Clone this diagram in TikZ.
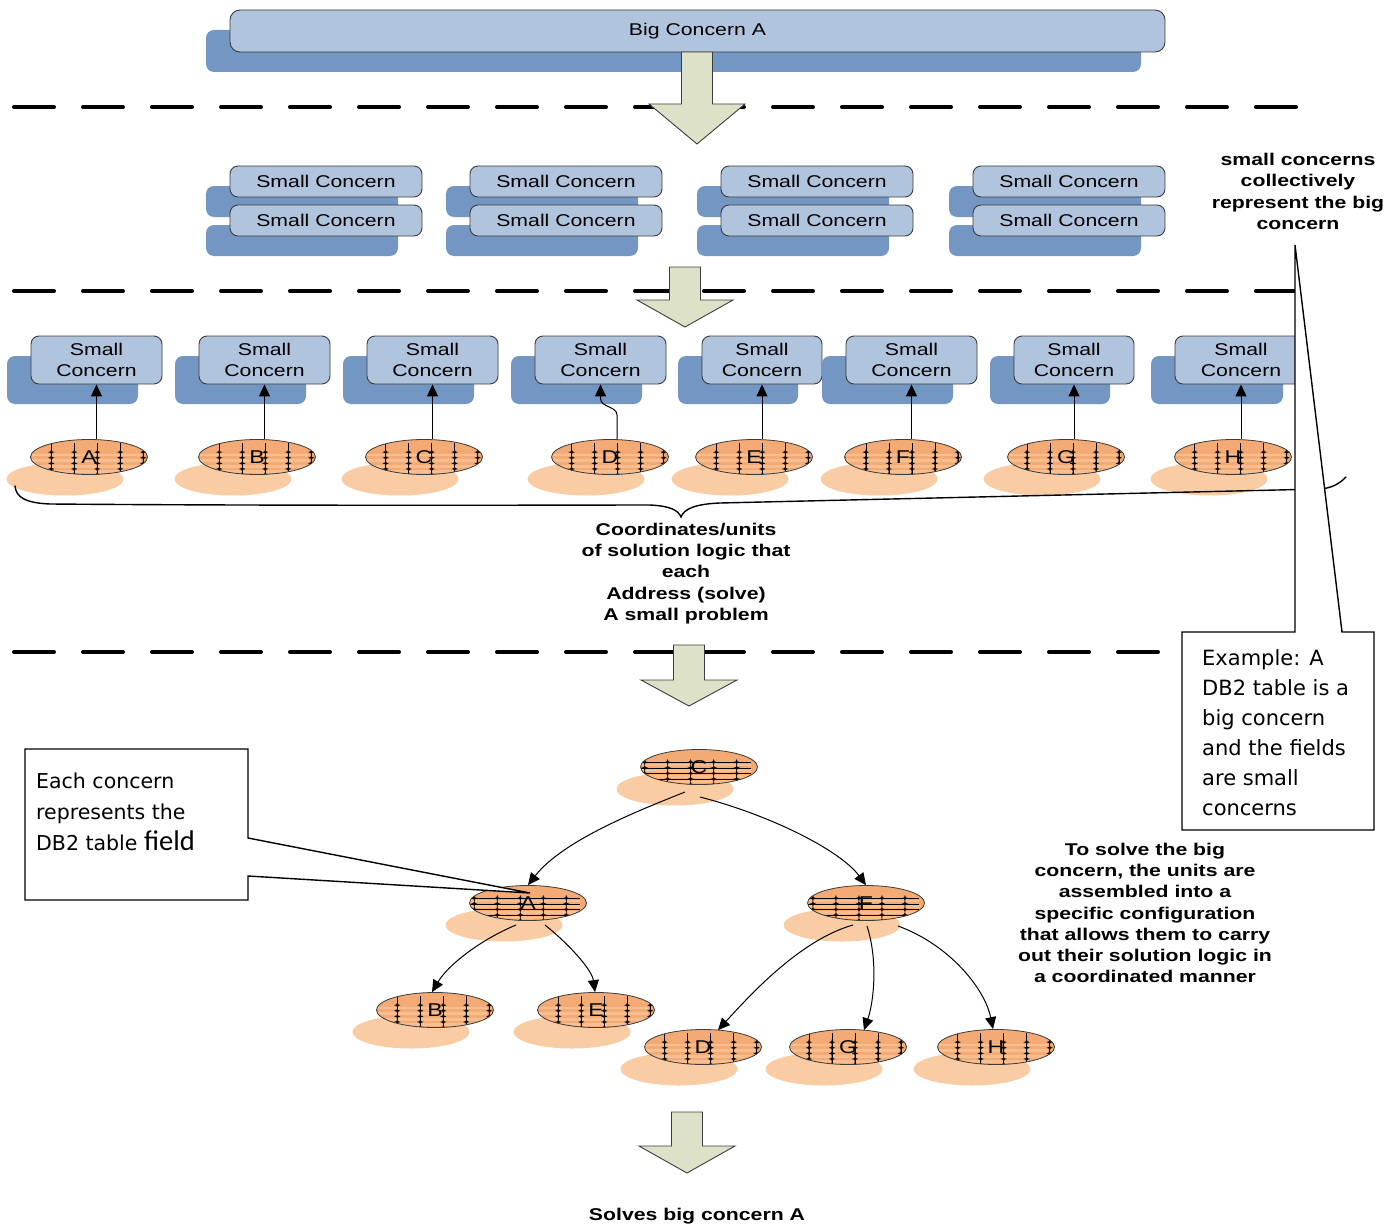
\documentclass[tikz,border=0pt]{standalone}
\usepackage{fontspec}
\setmainfont[FakeStretch=1.25]{Liberation Sans}
\newfontfamily\callfont{DejaVu Sans}
\newfontfamily\fieldfont{Carlito}
\usetikzlibrary{arrows.meta,shapes.geometric}

\definecolor{frontblue}{RGB}{176,196,222}
\definecolor{backblue}{RGB}{116,150,194}
\definecolor{edgegray}{RGB}{60,60,60}
\definecolor{arrowfill}{RGB}{221,225,200}
\definecolor{unitor}{RGB}{243,170,116}
\definecolor{unitlight}{RGB}{247,190,144}
\definecolor{unitshadow}{RGB}{249,204,164}

% block arrow: centre x, shaft top, head base, tip
\newcommand\blockarrow[4]{%
  \draw[barrow] (#1-15.5,#2) -- (#1+15.5,#2) -- (#1+15.5,#3) -- (#1+48,#3)
    -- (#1,#4) -- (#1-48,#3) -- (#1-15.5,#3) -- cycle;}

% solution unit with its soft shadow: name, x, y, label, grid style
\newcommand\unitnode[5]{%
  \node[ushadow] (#1s) at (#2-24,#3+22) {};
  \node[unit,#5] (#1) at (#2,#3) {#4};}

% small four-pointed star used in the unit fill
\newcommand\gridstar[2]{%
  \fill[black] (#1-3.2,#2) -- (#1-0.8,#2-0.8) -- (#1,#2-3.2) -- (#1+0.8,#2-0.8) -- (#1+3.2,#2)
    -- (#1+0.8,#2+0.8) -- (#1,#2+3.2) -- (#1-0.8,#2+0.8) -- cycle;}

\begin{document}
\begin{tikzpicture}[x=1pt,y=-1pt,
  sz/.style 2 args={minimum width=#1pt,minimum height=#2pt},
  front/.style={draw=edgegray,fill=frontblue,rounded corners=8pt,line width=0.9pt,
    inner sep=0pt,align=center,font=\fontsize{17}{21}\selectfont},
  back/.style={fill=backblue,rounded corners=8pt,inner sep=0pt},
  barrow/.style={draw=edgegray,fill=arrowfill,line width=0.9pt,line join=miter},
  dashline/.style={line width=4pt,dash pattern=on 40pt off 29pt,line cap=round},
  conn/.style={-{Triangle[length=12pt,width=11pt]},line width=1pt},
  callout/.style={draw=black,fill=white,line width=1.4pt,line join=miter},
  bold/.style={font=\bfseries\fontsize{17}{21.3}\selectfont,align=center,inner sep=0pt},
  ushadow/.style={ellipse,fill=unitshadow,minimum width=117pt,minimum height=33pt,inner sep=0pt},
  unit/.style={ellipse,minimum width=117pt,minimum height=35pt,inner sep=0pt,
    draw=edgegray,line width=0.8pt,fill=unitor,font=\fontsize{18.5}{18.5}\selectfont},
  vgrid/.style={path picture={
    \begin{scope}[shift={(path picture bounding box.center)}]
      \foreach \r in {-8.4,-2.8,2.8,8.4}{\fill[unitlight] (-60,\r-1.4) rectangle (60,\r+1.4);}
      \foreach \c in {-53,-30,-7,16,39,62}{
        \draw[black,line width=0.4pt] (\c,-20) -- (\c,20);
        \foreach \r in {-11.2,-5.6,0,5.6,11.2}{\gridstar{\c}{\r}}
      }
    \end{scope}}},
  hgrid/.style={path picture={
    \begin{scope}[shift={(path picture bounding box.center)}]
      \foreach \r in {-8.4,-2.8,2.8,8.4}{\fill[unitlight] (-60,\r-1.4) rectangle (60,\r+1.4);}
      \foreach \r in {-11.2,-5.6,0,5.6,11.2}{
        \draw[black,line width=0.4pt] (-60,\r) -- (60,\r);
        \foreach \c in {-46,-23,0,23,46}{\gridstar{\c}{\r}}
      }
    \end{scope}}},
]
\useasboundingbox[fill=white] (0,0) rectangle (1398,1228);

% ---- the big concern
\node[back,sz={935}{42}] (bigb) at (673.5,51) {};
\node[front,sz={935}{42},rounded corners=10pt] (big) at (697.5,31) {Big Concern A};

\draw[dashline] (14,107) -- (1300,107);
\blockarrow{697}{52}{104}{144}

% ---- small concerns, grouped in pairs
\foreach \gx [count=\g] in {326,566,817,1069}{
  \node[back,sz={192}{31}] (g\g bb) at (\gx-24,240.5) {};
  \node[back,sz={192}{31}] (g\g tb) at (\gx-24,201.5) {};
  \node[front,sz={192}{31}] (g\g t) at (\gx,181.5) {Small Concern};
  \node[front,sz={192}{31}] (g\g b) at (\gx,220.5) {Small Concern};
}

\draw[dashline] (14,291) -- (1300,291);
\blockarrow{685}{267}{300}{327}

% ---- one small concern per solution unit
\foreach \xa/\xb [count=\i] in {31/162,199/330,367/498,535/666,702/822,846/977,1014/1134,1175/1307}{
  \node[back,sz={\xb-\xa}{48}] (r\i b) at ({(\xa+\xb)/2-24},380) {};
  \node[front,sz={\xb-\xa}{48}] (r\i) at ({(\xa+\xb)/2},360) {Small\\Concern};
}

\unitnode{uA}{89}{457}{A}{vgrid}
\unitnode{uB}{257}{457}{B}{vgrid}
\unitnode{uC}{424}{457}{C}{vgrid}
\unitnode{uD}{610}{457}{D}{vgrid}
\unitnode{uE}{754}{457}{E}{vgrid}
\unitnode{uF}{903}{457}{F}{vgrid}
\unitnode{uG}{1066}{457}{G}{vgrid}
\unitnode{uH}{1233}{457}{H}{vgrid}

\draw[conn] (r1.south |- uA.north) -- (r1.south);
\draw[conn] (r2.south |- uB.north) -- (r2.south);
\draw[conn] (r3.south |- uC.north) -- (r3.south);
\draw[conn] ([shift={(7,0)}]uD.north) -- ++(0,-24)
  .. controls +(0,-9) and +(0,9) .. ([shift={(0,14)}]r4.south) -- (r4.south);
\draw[conn] (r5.south |- uE.north) -- (r5.south);
\draw[conn] (r6.south |- uF.north) -- (r6.south);
\draw[conn] (r7.south |- uG.north) -- (r7.south);
\draw[conn] (r8.south |- uH.north) -- (r8.south);

% brace under the row of units
\draw[line width=1.4pt,line cap=round]
  (15,486) .. controls (16,497) and (25,503) .. (50,504)
  .. controls (300,506) and (600,505) .. (650,505)
  .. controls (670,506) and (678,510) .. (681,517)
  .. controls (684,509) and (695,504) .. (720,503)
  -- (1320,489) .. controls (1333,488) and (1340,483) .. (1346,477);

\node[bold] (unitstext) at (686,573.5)
  {Coordinates/units\\of solution logic that\\each\\Address (solve)\\A small problem};

\draw[dashline] (14,652) -- (1300,652);

% ---- example callout
\draw[callout] (1182,632) -- (1295,632) -- (1295,245) -- (1342,632) -- (1374,632)
  -- (1374,830) -- (1182,830) -- cycle;
\node[anchor=north west,align=left,inner sep=0pt,font=\callfont\fontsize{21}{30}\selectfont]
  (extext) at (1202,649)
  {Example: A\\DB2 table is a\\big concern\\and the fields\\are small\\concerns};
\node[bold] (collect) at (1298,191.5)
  {small concerns\\collectively\\represent the big\\concern};

\blockarrow{689}{645}{680}{706}

% ---- assembled configuration
\unitnode{tC}{699}{767}{C}{hgrid}
\unitnode{tA}{528}{903}{A}{hgrid}
\unitnode{tF}{866}{903}{F}{hgrid}
\unitnode{tB}{435}{1010}{B}{vgrid}
\unitnode{tE}{596}{1010}{E}{vgrid}
\unitnode{tD}{703}{1047}{D}{vgrid}
\unitnode{tG}{848}{1047}{G}{vgrid}
\unitnode{tH}{996}{1047}{H}{vgrid}

\draw[conn] ([shift={(-14,25)}]tC.center) .. controls +(-45,18) and +(35,-45) .. (tA.north);
\draw[conn] ([shift={(1,30)}]tC.center) .. controls +(70,18) and +(-26,-35) .. (tF.north);
\draw[conn] ([shift={(-12,22)}]tA.center) .. controls +(-36,15) and +(16,-27) .. ([shift={(-3,0)}]tB.north);
\draw[conn] ([shift={(17,22)}]tA.center) .. controls +(25,20) and +(-3,-22) .. ([shift={(-1,0)}]tE.north);
\draw[conn] ([shift={(-13,22)}]tF.center) .. controls +(-53,15) and +(32,-35) .. ([shift={(15,1)}]tD.north);
\draw[conn] ([shift={(1,23)}]tF.center) .. controls +(11,34) and +(10,-29) .. ([shift={(16,1)}]tG.north);
\draw[conn] ([shift={(32,23)}]tF.center) .. controls +(52,19) and +(-8,-40) .. ([shift={(-3,0)}]tH.north);

% ---- field callout
\draw[callout] (25,749) -- (248,749) -- (248,838) -- (530,893) -- (248,876)
  -- (248,900) -- (25,900) -- cycle;
\node[anchor=north west,align=left,inner sep=0pt,font=\callfont\fontsize{20.5}{31}\selectfont]
  (fieldtext) at (36,773)
  {Each concern\\represents the\\DB2 table {\fieldfont\fontsize{28.5}{31}\selectfont field}};

\node[bold] (solvetext) at (1145,913)
  {To solve the big\\concern, the units are\\assembled into a\\specific configuration\\that allows them to carry\\out their solution logic in\\a coordinated manner};

\blockarrow{687}{1112}{1146}{1173}
\node[bold] (result) at (697,1216) {Solves big concern A};
\end{tikzpicture}
\end{document}
